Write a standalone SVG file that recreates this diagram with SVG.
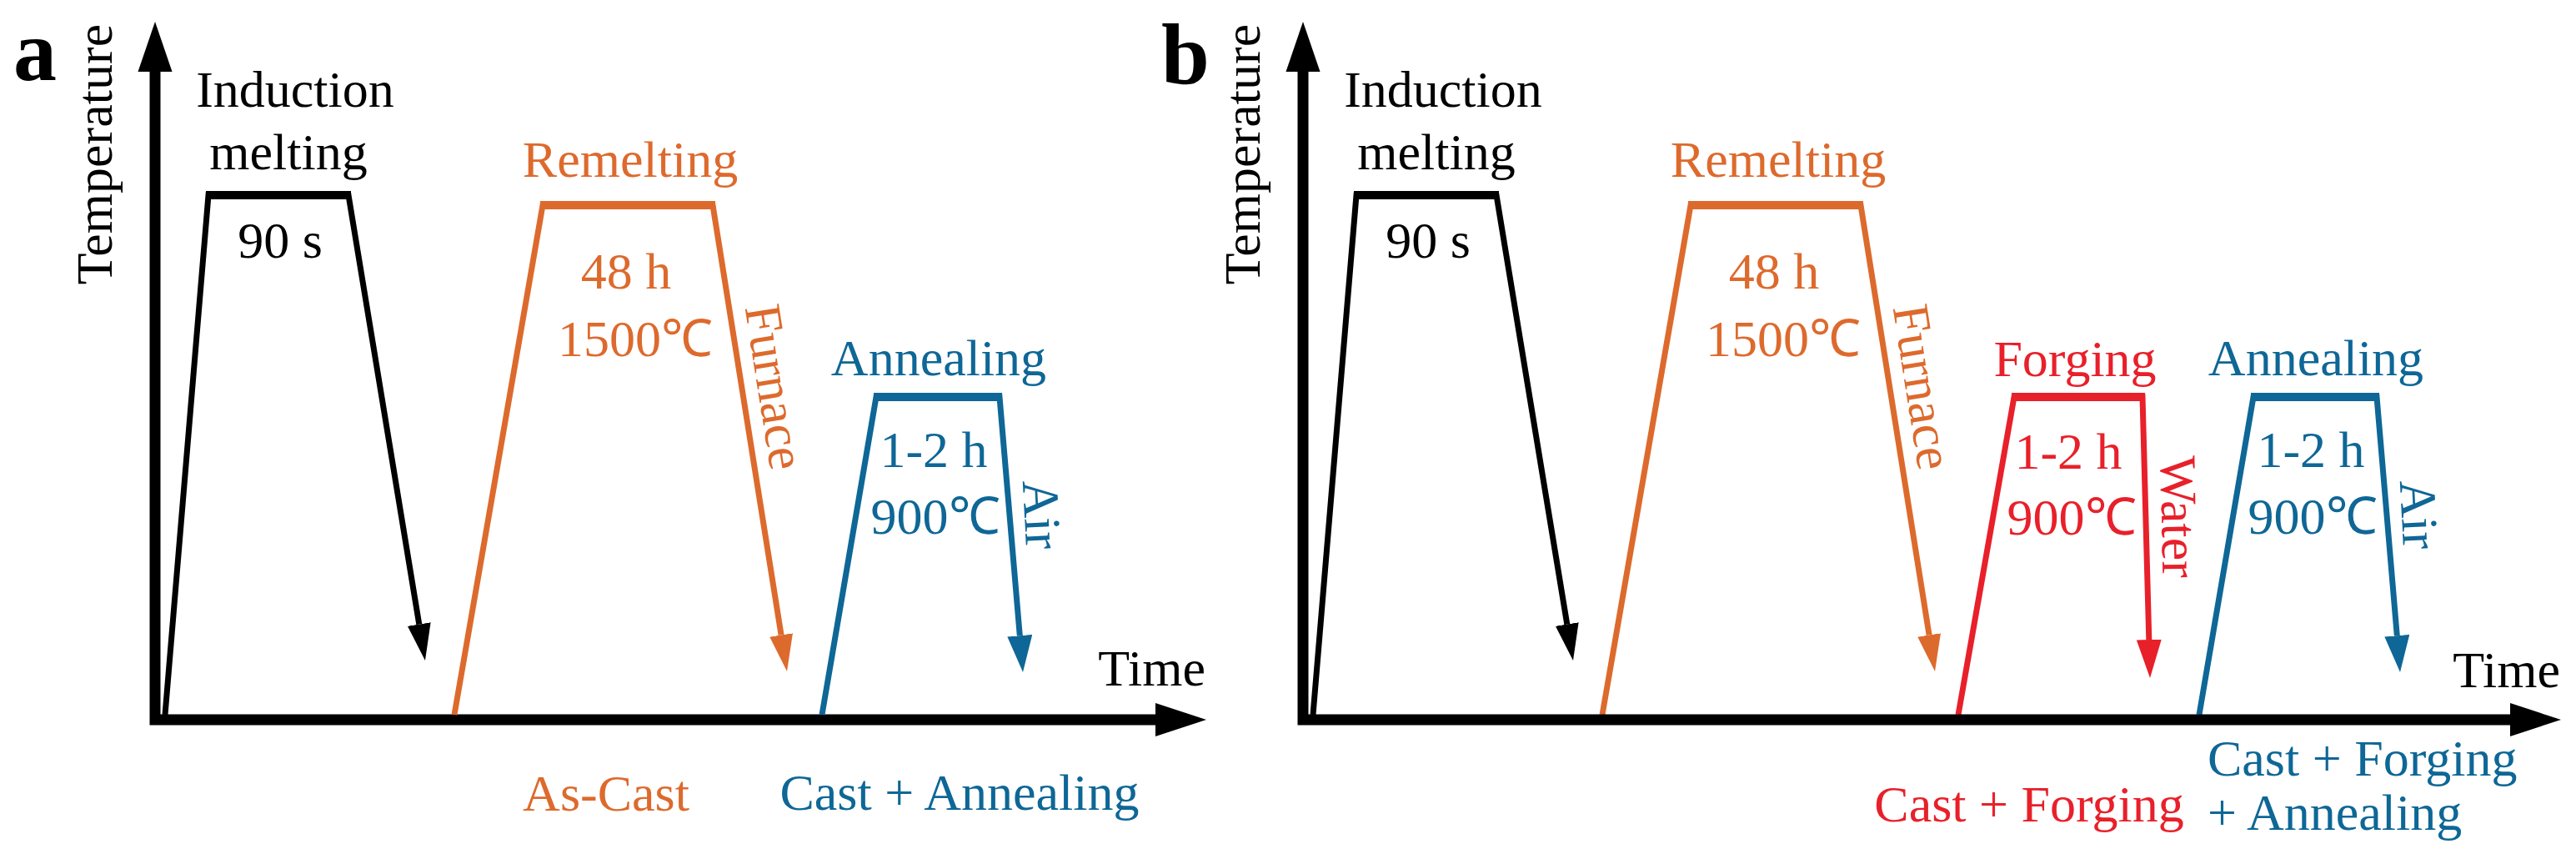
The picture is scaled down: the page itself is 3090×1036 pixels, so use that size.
<svg xmlns="http://www.w3.org/2000/svg" width="3090" height="1036" viewBox="0 0 3090 1036">
<defs>
<style>
text{font-family:"Liberation Serif","Times New Roman",serif;font-size:62px}
.mid{text-anchor:middle}
.end{text-anchor:end}
.tx-black{fill:#000}
.tx-orange{fill:#dd6a2d}
.tx-blue{fill:#0e6796}
.tx-red{fill:#e8202a}
.panel-label{font-weight:bold;font-size:104px}
.axis{fill:none;stroke:#000;stroke-width:13;stroke-linejoin:miter}
.curve{fill:none;stroke-width:7;stroke-linejoin:miter}
.hold{stroke-width:10}
.st-black{stroke:#000}.st-orange{stroke:#dd6a2d}.st-blue{stroke:#0e6796}.st-red{stroke:#e8202a}
</style>
<marker id="ak" markerUnits="userSpaceOnUse" markerWidth="44" markerHeight="28" refX="0" refY="14" orient="auto" viewBox="0 0 44 28"><path d="M0,0 L44,14 L0,28 z" fill="#000"/></marker>
<marker id="ao" markerUnits="userSpaceOnUse" markerWidth="44" markerHeight="28" refX="0" refY="14" orient="auto" viewBox="0 0 44 28"><path d="M0,0 L44,14 L0,28 z" fill="#dd6a2d"/></marker>
<marker id="ab" markerUnits="userSpaceOnUse" markerWidth="44" markerHeight="30" refX="0" refY="15" orient="auto" viewBox="0 0 44 30"><path d="M0,0 L44,15 L0,30 z" fill="#0e6796"/></marker>
<marker id="ar" markerUnits="userSpaceOnUse" markerWidth="46" markerHeight="30" refX="0" refY="15" orient="auto" viewBox="0 0 46 30"><path d="M0,0 L46,15 L0,30 z" fill="#e8202a"/></marker>
</defs>
<rect width="3090" height="1036" fill="#fff"/>

<!-- Panel a -->
<g id="panel-a-axes">
<path class="axis" d="M186,84 L186,863 L1388,863"/>
<polygon points="186,26 206.5,86 165.5,86" fill="#000"/>
<polygon points="1447,863 1386,843 1386,883" fill="#000"/>
<text class="panel-label" x="16" y="96">a</text>
<text class="mid" transform="translate(134,185) rotate(-90)">Temperature</text>
<text class="end" x="1446" y="822">Time</text>
</g>

<g id="connectors">
<path class="curve st-black" d="M198,857 L250,234 L418,234 L502.8,748.6" marker-end="url(#ak)"/>
<line class="curve hold st-black" x1="247" y1="234" x2="421" y2="234"/>
<path class="curve st-orange" d="M545,857 L651,246 L855,246 L937.1,761.5" marker-end="url(#ao)"/>
<line class="curve hold st-orange" x1="648" y1="246" x2="858" y2="246"/>
<path class="curve st-blue" d="M986,857 L1051,476 L1199,476 L1223.3,762.2" marker-end="url(#ab)"/>
<line class="curve hold st-blue" x1="1048" y1="476" x2="1202" y2="476"/>

<path class="curve st-black" d="M1575,857 L1627,234 L1795,234 L1879.8,748.6" marker-end="url(#ak)"/>
<line class="curve hold st-black" x1="1624" y1="234" x2="1798" y2="234"/>
<path class="curve st-orange" d="M1922,857 L2028,246 L2232,246 L2314.1,761.5" marker-end="url(#ao)"/>
<line class="curve hold st-orange" x1="2025" y1="246" x2="2235" y2="246"/>
<path class="curve st-red" d="M2349,857 L2416,476 L2570,476 L2577.8,767" marker-end="url(#ar)"/>
<line class="curve hold st-red" x1="2413" y1="476" x2="2573" y2="476"/>
<path class="curve st-blue" d="M2638,857 L2703,476 L2851,476 L2875.3,762.2" marker-end="url(#ab)"/>
<line class="curve hold st-blue" x1="2700" y1="476" x2="2854" y2="476"/>
</g>

<g id="a-induction">
<text class="mid tx-black" x="354" y="128">Induction</text>
<text class="mid tx-black" x="346" y="203">melting</text>
<text class="mid tx-black" x="336" y="309">90 s</text>
</g>
<g id="a-remelting">
<text class="mid tx-orange" x="756" y="212">Remelting</text>
<text class="mid tx-orange" x="751" y="346">48 h</text>
<text class="mid tx-orange" x="762" y="427">1500℃</text>
<text class="mid tx-orange" transform="translate(909,467) rotate(81)">Furnace</text>
<text class="mid tx-orange" x="727" y="972">As-Cast</text>
</g>
<g id="a-annealing">
<text class="mid tx-blue" x="1126" y="450">Annealing</text>
<text class="mid tx-blue" x="1120" y="560">1-2 h</text>
<text class="mid tx-blue" x="1122" y="640">900℃</text>
<text class="mid tx-blue" transform="translate(1229,618) rotate(87)">Air</text>
<text class="mid tx-blue" x="1151" y="971">Cast + Annealing</text>
</g>

<!-- Panel b -->
<g id="panel-b-axes">
<path class="axis" d="M1563,84 L1563,863 L3013,863"/>
<polygon points="1563,26 1583.5,86 1542.5,86" fill="#000"/>
<polygon points="3072,863 3011,843 3011,883" fill="#000"/>
<text class="panel-label" x="1393" y="100">b</text>
<text class="mid" transform="translate(1511,185) rotate(-90)">Temperature</text>
<text class="end" x="3071" y="824">Time</text>
</g>
<g id="b-induction">
<text class="mid tx-black" x="1731" y="128">Induction</text>
<text class="mid tx-black" x="1723" y="203">melting</text>
<text class="mid tx-black" x="1713" y="309">90 s</text>
</g>
<g id="b-remelting">
<text class="mid tx-orange" x="2133" y="212">Remelting</text>
<text class="mid tx-orange" x="2128" y="346">48 h</text>
<text class="mid tx-orange" x="2139" y="427">1500℃</text>
<text class="mid tx-orange" transform="translate(2286,467) rotate(81)">Furnace</text>
</g>
<g id="b-forging">
<text class="mid tx-red" x="2489" y="451">Forging</text>
<text class="mid tx-red" x="2481" y="562">1-2 h</text>
<text class="mid tx-red" x="2485" y="641">900℃</text>
<text class="mid tx-red" transform="translate(2593,620) rotate(89)">Water</text>
<text class="mid tx-red" x="2434" y="985">Cast + Forging</text>
</g>
<g id="b-annealing">
<text class="mid tx-blue" x="2778" y="450">Annealing</text>
<text class="mid tx-blue" x="2772" y="560">1-2 h</text>
<text class="mid tx-blue" x="2774" y="640">900℃</text>
<text class="mid tx-blue" transform="translate(2881,618) rotate(87)">Air</text>
<text class="tx-blue" x="2648" y="930">Cast + Forging</text>
<text class="tx-blue" x="2648" y="995">+ Annealing</text>
</g>
</svg>
